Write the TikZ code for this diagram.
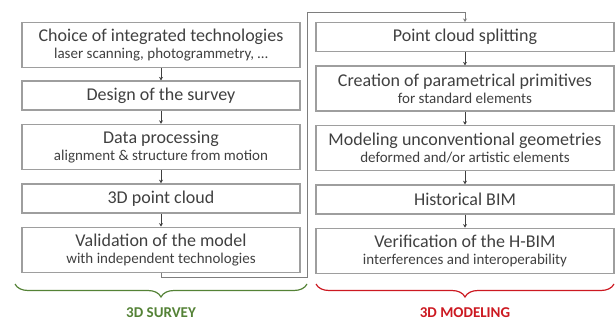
\documentclass[tikz,border=0pt]{standalone}
\usepackage{fontspec}
\setmainfont{Carlito}
\usepackage{tikz}
\usetikzlibrary{decorations.pathreplacing,positioning,calc,arrows.meta}
\definecolor{BoxLine}{rgb}{0.62, 0.62, 0.62}
\definecolor{BoxText}{rgb}{0.25, 0.25, 0.25}
\definecolor{SurveyGreen}{rgb}{0.33, 0.51, 0.21}
\definecolor{ModelRed}{rgb}{0.80, 0.10, 0.13}
\tikzset{flow layout/.style={%
    y=-1pt,%
    x=1pt,%
    node distance=13pt,%
    every node/.style={%
        text=BoxText, inner sep=0pt, align=center%
    },%
    every path/.style={%
        line width=0.8pt%
    }%
}}
\tikzset{stage/.style={%
    draw=BoxLine, line width=1.4pt, minimum height=29pt,%
    font=\fontsize{18}{19}\selectfont%
}}
\tikzset{stage two/.style={%
    stage, minimum height=45pt%
}}
\tikzset{left stage/.style={minimum width=278pt}}
\tikzset{right stage/.style={minimum width=298pt}}
\tikzset{link/.style={%
    draw=BoxText, -{Stealth[width=4pt,length=3.5pt]}%
}}
\tikzset{brace under/.style={%
    decorate, decoration={brace, mirror, amplitude=13pt}, line width=1.2pt%
}}
\tikzset{part label/.style={%
    font=\bfseries\fontsize{15}{16}\selectfont%
}}
\newcommand{\subline}[1]{\\[-2pt]{\fontsize{15}{16}\selectfont #1}}

\begin{document}
\begin{tikzpicture}[flow layout]
            \useasboundingbox (0,0) rectangle (616,323);

            % 3D survey
            \node (l1) [stage two, left stage, anchor=north] at (161,22)
                {Choice of integrated technologies\subline{laser scanning, photogrammetry, \dots}};
            \node (l2) [stage, left stage, below=12pt of l1] {Design of the survey};
            \node (l3) [stage two, left stage, below=of l2]
                {Data processing\subline{alignment \& structure from motion}};
            \node (l4) [stage, left stage, below=of l3] {3D point cloud};
            \node (l5) [stage two, left stage, below=of l4]
                {Validation of the model\subline{with independent technologies}};

            % 3D modeling
            \node (r1) [stage, right stage, anchor=north] at (465,22) {Point cloud splitting};
            \node (r2) [stage two, right stage, below=of r1]
                {Creation of parametrical primitives\subline{for standard elements}};
            \node (r3) [stage two, right stage, below=of r2]
                {Modeling unconventional geometries\subline{deformed and/or artistic elements}};
            \node (r4) [stage, right stage, below=of r3] {Historical BIM};
            \node (r5) [stage two, right stage, below=of r4]
                {Verification of the H-BIM\subline{interferences and interoperability}};

            \foreach \i in {1,...,4} {
                \pgfmathtruncatemacro{\ni}{\i+1}
                \xdef\ni{\ni}
                \draw [link] (l\i) -- (l\ni);
                \draw [link] (r\i) -- (r\ni);
            }

            % hand over from survey to modeling
            \coordinate (bend low) at (307,277);
            \coordinate (bend high) at (307,12);
            \draw [link, draw=BoxLine!80!black] (l5.south) |- (bend low) -- (bend high) -| (r1.north);

            \draw [brace under, SurveyGreen] (15,284) -- (307,284);
            \draw [brace under, ModelRed] (316,284) -- (614,284);
            \node (survey) [part label, text=SurveyGreen] at (161,313) {3D SURVEY};
            \node (modeling) [part label, text=ModelRed] at (465,313) {3D MODELING};
        \end{tikzpicture}
\end{document}
